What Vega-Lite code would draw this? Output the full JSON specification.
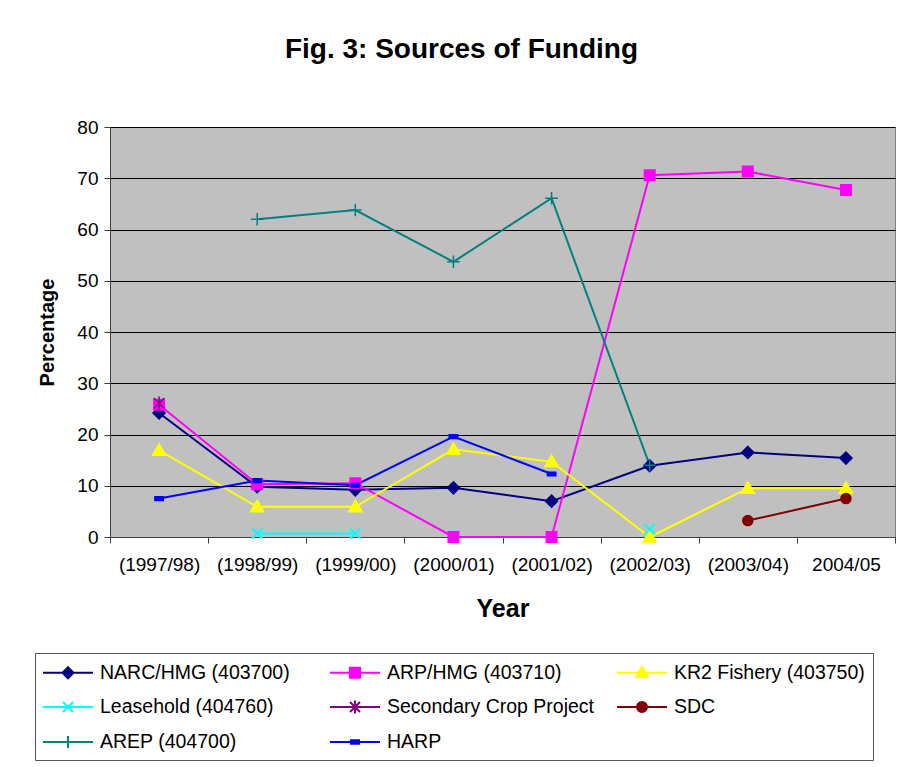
{
  "$schema": "https://vega.github.io/schema/vega-lite/v6.json",
  "width": 785,
  "height": 410,
  "autosize": {"type": "none"},
  "padding": {"left": 110, "top": 127, "right": 5, "bottom": 230},
  "background": "white",
  "title": {"text": "Fig. 3: Sources of Funding", "font": "Liberation Sans", "fontSize": 28, "fontWeight": "bold", "color": "black", "anchor": "middle", "frame": "group", "dx": -41, "offset": 54},
  "data": {"values": [
    {"series": "NARC/HMG (403700)", "year": "(1997/98)", "value": 24.2, "seg": "a"},
    {"series": "NARC/HMG (403700)", "year": "(1998/99)", "value": 9.8, "seg": "a"},
    {"series": "NARC/HMG (403700)", "year": "(1999/00)", "value": 9.2, "seg": "a"},
    {"series": "NARC/HMG (403700)", "year": "(2000/01)", "value": 9.6, "seg": "a"},
    {"series": "NARC/HMG (403700)", "year": "(2001/02)", "value": 7.0, "seg": "a"},
    {"series": "NARC/HMG (403700)", "year": "(2002/03)", "value": 13.9, "seg": "a"},
    {"series": "NARC/HMG (403700)", "year": "(2003/04)", "value": 16.5, "seg": "a"},
    {"series": "NARC/HMG (403700)", "year": "2004/05", "value": 15.4, "seg": "a"},
    {"series": "ARP/HMG (403710)", "year": "(1997/98)", "value": 25.8, "seg": "a"},
    {"series": "ARP/HMG (403710)", "year": "(1998/99)", "value": 10.3, "seg": "a"},
    {"series": "ARP/HMG (403710)", "year": "(1999/00)", "value": 10.5, "seg": "a"},
    {"series": "ARP/HMG (403710)", "year": "(2000/01)", "value": 0, "seg": "a"},
    {"series": "ARP/HMG (403710)", "year": "(2001/02)", "value": 0, "seg": "a"},
    {"series": "ARP/HMG (403710)", "year": "(2002/03)", "value": 70.6, "seg": "a"},
    {"series": "ARP/HMG (403710)", "year": "(2003/04)", "value": 71.3, "seg": "a"},
    {"series": "ARP/HMG (403710)", "year": "2004/05", "value": 67.7, "seg": "a"},
    {"series": "KR2 Fishery (403750)", "year": "(1997/98)", "value": 16.9, "seg": "a"},
    {"series": "KR2 Fishery (403750)", "year": "(1998/99)", "value": 5.9, "seg": "a"},
    {"series": "KR2 Fishery (403750)", "year": "(1999/00)", "value": 5.9, "seg": "a"},
    {"series": "KR2 Fishery (403750)", "year": "(2000/01)", "value": 17.1, "seg": "a"},
    {"series": "KR2 Fishery (403750)", "year": "(2001/02)", "value": 14.7, "seg": "a"},
    {"series": "KR2 Fishery (403750)", "year": "(2002/03)", "value": 0, "seg": "a"},
    {"series": "KR2 Fishery (403750)", "year": "(2003/04)", "value": 9.5, "seg": "a"},
    {"series": "KR2 Fishery (403750)", "year": "2004/05", "value": 9.5, "seg": "a"},
    {"series": "Leasehold (404760)", "year": "(1998/99)", "value": 0.7, "seg": "a"},
    {"series": "Leasehold (404760)", "year": "(1999/00)", "value": 0.7, "seg": "a"},
    {"series": "Leasehold (404760)", "year": "(2002/03)", "value": 1.5, "seg": "b"},
    {"series": "Secondary Crop Project", "year": "(1997/98)", "value": 26.1, "seg": "a"},
    {"series": "SDC", "year": "(2003/04)", "value": 3.2, "seg": "a"},
    {"series": "SDC", "year": "2004/05", "value": 7.5, "seg": "a"},
    {"series": "AREP (404700)", "year": "(1998/99)", "value": 62.0, "seg": "a"},
    {"series": "AREP (404700)", "year": "(1999/00)", "value": 63.8, "seg": "a"},
    {"series": "AREP (404700)", "year": "(2000/01)", "value": 53.7, "seg": "a"},
    {"series": "AREP (404700)", "year": "(2001/02)", "value": 66.1, "seg": "a"},
    {"series": "AREP (404700)", "year": "(2002/03)", "value": 14.0, "seg": "a"},
    {"series": "HARP", "year": "(1997/98)", "value": 7.5, "seg": "a"},
    {"series": "HARP", "year": "(1998/99)", "value": 11.0, "seg": "a"},
    {"series": "HARP", "year": "(1999/00)", "value": 10.1, "seg": "a"},
    {"series": "HARP", "year": "(2000/01)", "value": 19.6, "seg": "a"},
    {"series": "HARP", "year": "(2001/02)", "value": 12.3, "seg": "a"}
  ]},
  "encoding": {
    "x": {
      "field": "year", "type": "ordinal",
      "sort": ["(1997/98)", "(1998/99)", "(1999/00)", "(2000/01)", "(2001/02)", "(2002/03)", "(2003/04)", "2004/05"],
      "scale": {"type": "band", "paddingInner": 0, "paddingOuter": 0},
      "axis": {"title": "Year", "labelAngle": 0, "tickBand": "extent", "grid": false, "tickSize": 6, "labelPadding": 12, "labelFont": "Liberation Sans", "labelFontSize": 19, "labelColor": "black", "titleFont": "Liberation Sans", "titleFontSize": 25, "titleFontWeight": "bold", "titleColor": "black", "titlePadding": 22, "domainColor": "#404040", "tickColor": "#404040"}
    },
    "y": {
      "field": "value", "type": "quantitative",
      "scale": {"domain": [0, 80], "nice": false},
      "axis": {"title": "Percentage", "values": [0, 10, 20, 30, 40, 50, 60, 70, 80], "grid": true, "gridColor": "black", "gridWidth": 1, "gridOpacity": 1, "tickSize": 6, "labelPadding": 6, "labelFont": "Liberation Sans", "labelFontSize": 19, "labelColor": "black", "titleFont": "Liberation Sans", "titleFontSize": 20, "titleFontWeight": "bold", "titleColor": "black", "titlePadding": 19, "domainColor": "#404040", "tickColor": "#404040"}
    },
    "color": {
      "field": "series", "type": "nominal",
      "scale": {
        "domain": ["NARC/HMG (403700)", "ARP/HMG (403710)", "KR2 Fishery (403750)", "Leasehold (404760)", "Secondary Crop Project", "SDC", "AREP (404700)", "HARP"],
        "range": ["#000080", "#FF00FF", "#FFFF00", "#00FFFF", "#800080", "#800000", "#008080", "#0000FF"]
      },
      "legend": {"title": null}
    },
    "stroke": {
      "field": "series", "type": "nominal",
      "scale": {
        "domain": ["NARC/HMG (403700)", "ARP/HMG (403710)", "KR2 Fishery (403750)", "Leasehold (404760)", "Secondary Crop Project", "SDC", "AREP (404700)", "HARP"],
        "range": ["#000080", "#FF00FF", "#FFFF00", "#00FFFF", "#800080", "#800000", "#008080", "#0000FF"]
      },
      "legend": {"title": null}
    }
  },
  "layer": [
    {"mark": {"type": "line", "strokeWidth": 2}, "encoding": {"detail": {"field": "seg", "type": "nominal"}}},
    {
      "mark": {"type": "point", "filled": true, "opacity": 0, "size": 400},
      "encoding": {
        "shape": {
          "field": "series", "type": "nominal", "legend": {"title": null},
          "scale": {
            "domain": ["NARC/HMG (403700)", "ARP/HMG (403710)", "KR2 Fishery (403750)", "Leasehold (404760)", "Secondary Crop Project", "SDC", "AREP (404700)", "HARP"],
            "range": ["M-2.5,0L2.5,0M0,-0.55L0.55,0L0,0.55L-0.55,0Z", "M-2.5,0L2.5,0M-0.5,-0.5L0.5,-0.5L0.5,0.5L-0.5,0.5Z", "M-2.5,0L2.5,0M0,-0.6L0.6,0.45L-0.6,0.45Z", "M-2.5,0L2.5,0M-0.5,-0.5L0.5,0.5M-0.5,0.5L0.5,-0.5", "M-2.5,0L2.5,0M-0.5,-0.5L0.5,0.5M-0.5,0.5L0.5,-0.5M0,-0.65L0,0.65", "M-2.5,0L2.5,0M0.5,0A0.5,0.5,0,1,1,-0.5,0A0.5,0.5,0,1,1,0.5,0Z", "M-2.5,0L2.5,0M0,-0.6L0,0.6", "M-2.5,0L2.5,0M-0.4,-0.17L0.4,-0.17L0.4,0.17L-0.4,0.17Z"]
          }
        }
      }
    },
    {"transform": [{"filter": {"field": "series", "equal": "NARC/HMG (403700)"}}], "mark": {"type": "point", "filled": true, "opacity": 1, "size": 120, "strokeWidth": 1.5, "shape": "M0,-1.1L1.1,0L0,1.1L-1.1,0Z"}},
    {"transform": [{"filter": {"field": "series", "equal": "ARP/HMG (403710)"}}], "mark": {"type": "point", "filled": true, "opacity": 1, "size": 110, "strokeWidth": 1.5, "shape": "M-1,-1L1,-1L1,1L-1,1Z"}},
    {"transform": [{"filter": {"field": "series", "equal": "KR2 Fishery (403750)"}}], "mark": {"type": "point", "filled": true, "opacity": 1, "size": 120, "strokeWidth": 1.5, "shape": "M0,-1.2L1.2,0.9L-1.2,0.9Z"}},
    {"transform": [{"filter": {"field": "series", "equal": "Leasehold (404760)"}}], "mark": {"type": "point", "filled": true, "opacity": 1, "size": 110, "strokeWidth": 2, "shape": "M-1,-1L1,1M-1,1L1,-1"}},
    {"transform": [{"filter": {"field": "series", "equal": "Secondary Crop Project"}}], "mark": {"type": "point", "filled": true, "opacity": 1, "size": 110, "strokeWidth": 1.5, "shape": "M-1,-1L1,1M-1,1L1,-1M0,-1.3L0,1.3"}},
    {"transform": [{"filter": {"field": "series", "equal": "SDC"}}], "mark": {"type": "point", "filled": true, "opacity": 1, "size": 100, "strokeWidth": 1.5, "shape": "M1,0A1,1,0,1,1,-1,0A1,1,0,1,1,1,0Z"}},
    {"transform": [{"filter": {"field": "series", "equal": "AREP (404700)"}}], "mark": {"type": "point", "filled": true, "opacity": 1, "size": 110, "strokeWidth": 1.5, "shape": "M-1.2,0L1.2,0M0,-1.2L0,1.2"}},
    {"transform": [{"filter": {"field": "series", "equal": "HARP"}}], "mark": {"type": "point", "filled": true, "opacity": 1, "size": 110, "strokeWidth": 1.5, "shape": "M-0.8,-0.35L0.8,-0.35L0.8,0.35L-0.8,0.35Z"}}
  ],
  "config": {
    "view": {"fill": "#C0C0C0", "stroke": "#808080", "strokeWidth": 1},
    "legend": {
      "orient": "none", "legendX": -75, "legendY": 526, "direction": "horizontal", "columns": 3, "gridAlign": "all",
      "strokeColor": "#555555", "padding": 8,
      "labelFont": "Liberation Sans", "labelFontSize": 19.5, "labelColor": "black", "labelLimit": 400,
      "symbolSize": 400, "symbolStrokeWidth": 2, "symbolOpacity": 1, "symbolOffset": 14, "labelOffset": 21, "columnPadding": 18, "rowPadding": 13
    }
  }
}
